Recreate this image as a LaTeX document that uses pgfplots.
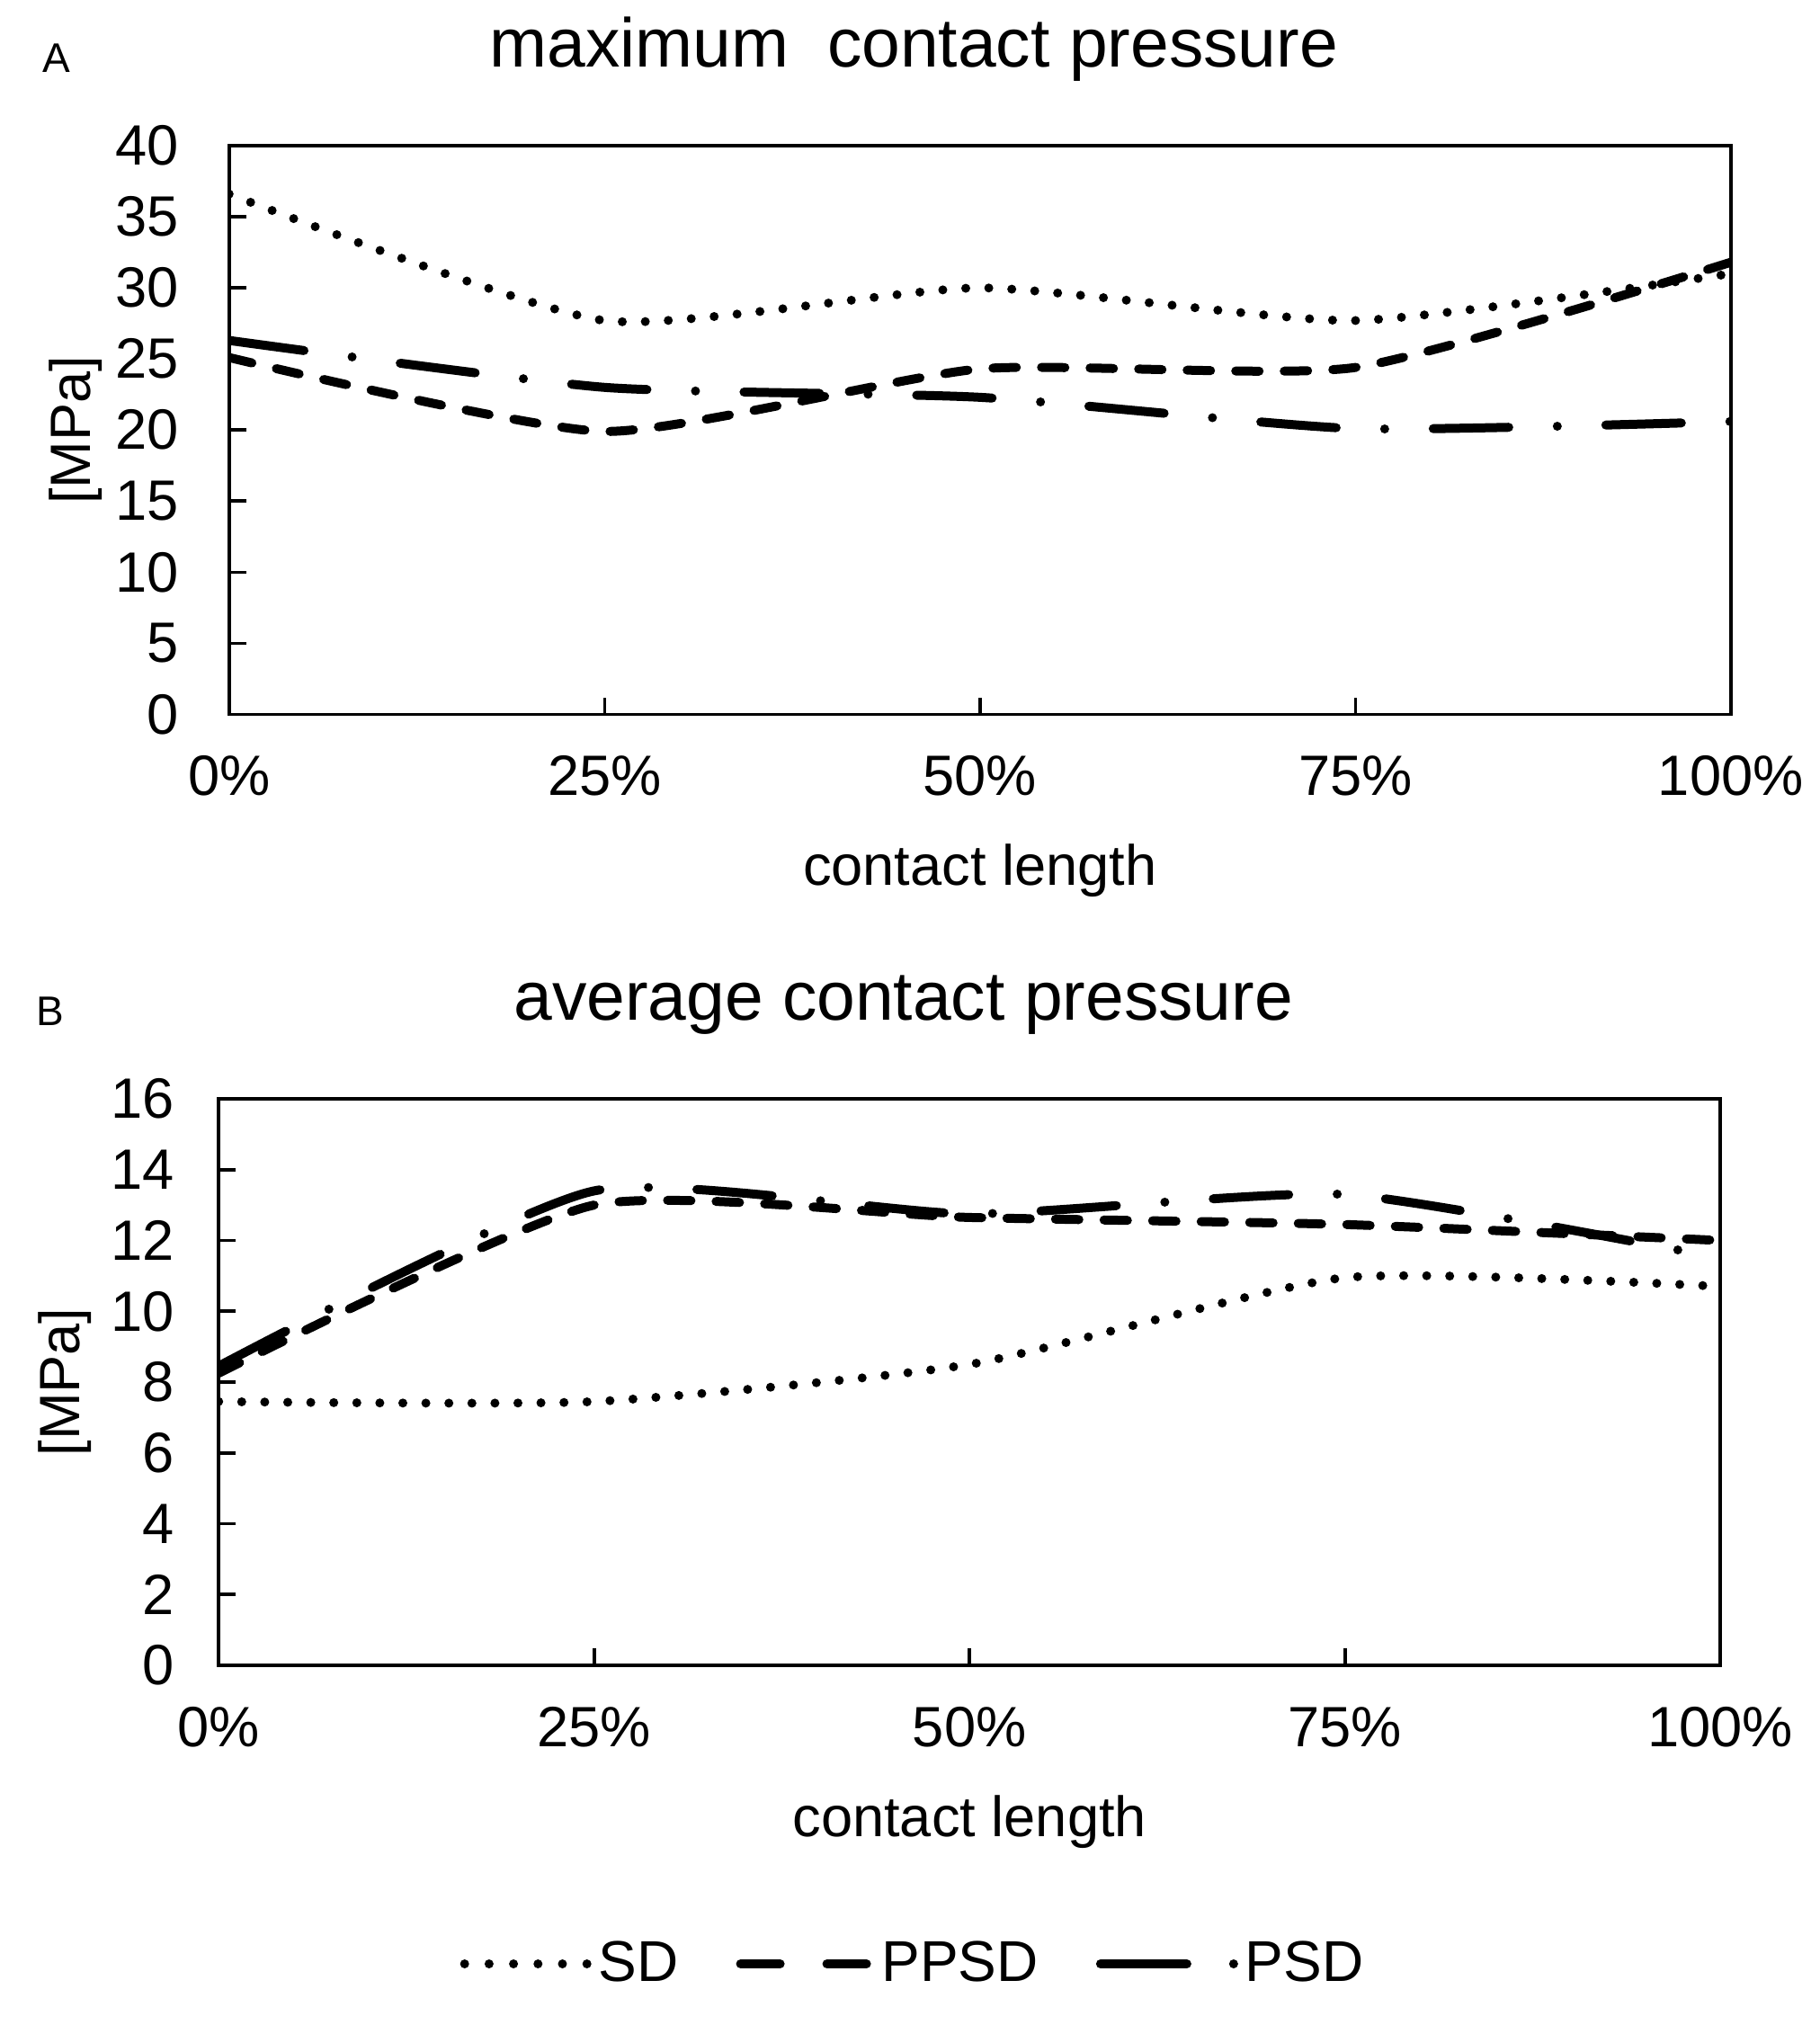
\documentclass[border=0pt]{standalone}
\usepackage{pgfplots}
\usepackage{pgfplotstable}
\pgfplotsset{compat=1.18}
\usepackage{fontspec}
\setmainfont{Liberation Sans}

\pgfplotstableread{
x SD PPSD PSD
0 36.6 25.1 26.3
25 27.7 19.9 23.0
50 30.0 24.3 22.3
75 27.7 24.4 20.1
100 31.0 31.8 20.6
}\maxdata

\pgfplotstableread{
x SD PPSD PSD
0 7.45 8.25 8.45
25 7.45 13.0 13.4
50 8.5 12.65 12.75
75 10.95 12.45 13.3
100 10.7 12.0 11.5
}\avgdata

\tikzset{
  sdline/.style={line width=2.5pt, line cap=round, dash pattern=on 0pt off 6.4pt},
  ppsdline/.style={line width=2.5pt, line cap=round, dash pattern=on 6.5pt off 7pt},
  psdline/.style={line width=2.5pt, line cap=round, dash pattern=on 21pt off 13.5pt on 0pt off 13.5pt},
}

\pgfplotsset{
  cp/.style={
    scale only axis, width=417.5pt,
    xmin=0, xmax=100,
    xtick={0,25,50,75,100},
    xticklabels={0\%,25\%,50\%,75\%,100\%},
    tick align=inside, tick pos=left, major tick length=4.7pt,
    axis line style={line width=0.9pt, black},
    every tick/.style={black, line width=0.9pt},
    tick label style={font=\fontsize{15.8}{18}\selectfont},
    /pgf/number format/assume math mode=true,
    xticklabel style={yshift=-8pt},
    every axis x label/.style={at={(axis description cs:0.5,0)}, anchor=base, yshift=-47.6pt, font=\fontsize{15.8}{18}\selectfont},
    every axis y label/.style={at={(axis description cs:-0.1023,0.5)}, anchor=center, rotate=90, font=\fontsize{15.8}{18}\selectfont},
    every axis title/.style={at={(axis description cs:0.456,1)}, anchor=base, yshift=21.8pt, font=\fontsize{19.2}{23}\selectfont},
    xlabel={contact length}, ylabel={[MPa]},
  }
}

\begin{document}
\begin{tikzpicture}
\useasboundingbox (0,0) rectangle (506pt,-563pt);

\node[anchor=base west, font=\fontsize{11.5}{14}\selectfont, inner sep=0pt] at (11.8pt,-20pt) {A};
\node[anchor=base west, font=\fontsize{11.5}{14}\selectfont, inner sep=0pt] at (10pt,-285pt) {B};

\begin{axis}[cp,
  at={(63.7pt,-198.6pt)}, anchor=south west, height=158.1pt,
  ymin=0, ymax=40, ytick={0,5,...,40},
  yticklabel style={xshift=-10.5pt},
  title={maximum\ \ contact pressure},
]
\addplot[sdline, smooth, tension=0.35] table[x=x, y=SD] {\maxdata};
\addplot[ppsdline, smooth, tension=0.35] table[x=x, y=PPSD] {\maxdata};
\addplot[psdline, smooth, tension=0.35] table[x=x, y=PSD] {\maxdata};
\end{axis}

\begin{axis}[cp,
  at={(60.8pt,-463pt)}, anchor=south west, height=157.5pt,
  ymin=0, ymax=16, ytick={0,2,...,16},
  yticklabel style={xshift=-8.8pt},
  title={average contact pressure},
  legend style={at={(axis description cs:0.464,-0.527)}, anchor=center, draw=none,
    legend columns=3, font=\fontsize{16}{18}\selectfont,
    /tikz/every even column/.append style={column sep=14pt}},
]
\addplot[sdline, smooth, tension=0.35, forget plot] table[x=x, y=SD] {\avgdata};
\addplot[ppsdline, smooth, tension=0.35, forget plot] table[x=x, y=PPSD] {\avgdata};
\addplot[psdline, smooth, tension=0.35, forget plot] table[x=x, y=PSD] {\avgdata};
\addlegendimage{legend image code/.code={\draw[line width=2.5pt, line cap=round, dash pattern=on 0pt off 6.8pt] (0pt,0pt) -- (34pt,0pt);}}
\addlegendentry{SD}
\addlegendimage{legend image code/.code={\draw[line width=2.5pt, line cap=round, dash pattern=on 11pt off 13pt] (0pt,0pt) -- (36pt,0pt);}}
\addlegendentry{PPSD}
\addlegendimage{legend image code/.code={\draw[line width=2.5pt, line cap=round, dash pattern=on 24pt off 13pt on 0pt off 13pt] (0pt,0pt) -- (37pt,0pt);}}
\addlegendentry{PSD}
\end{axis}
\end{tikzpicture}
\end{document}
